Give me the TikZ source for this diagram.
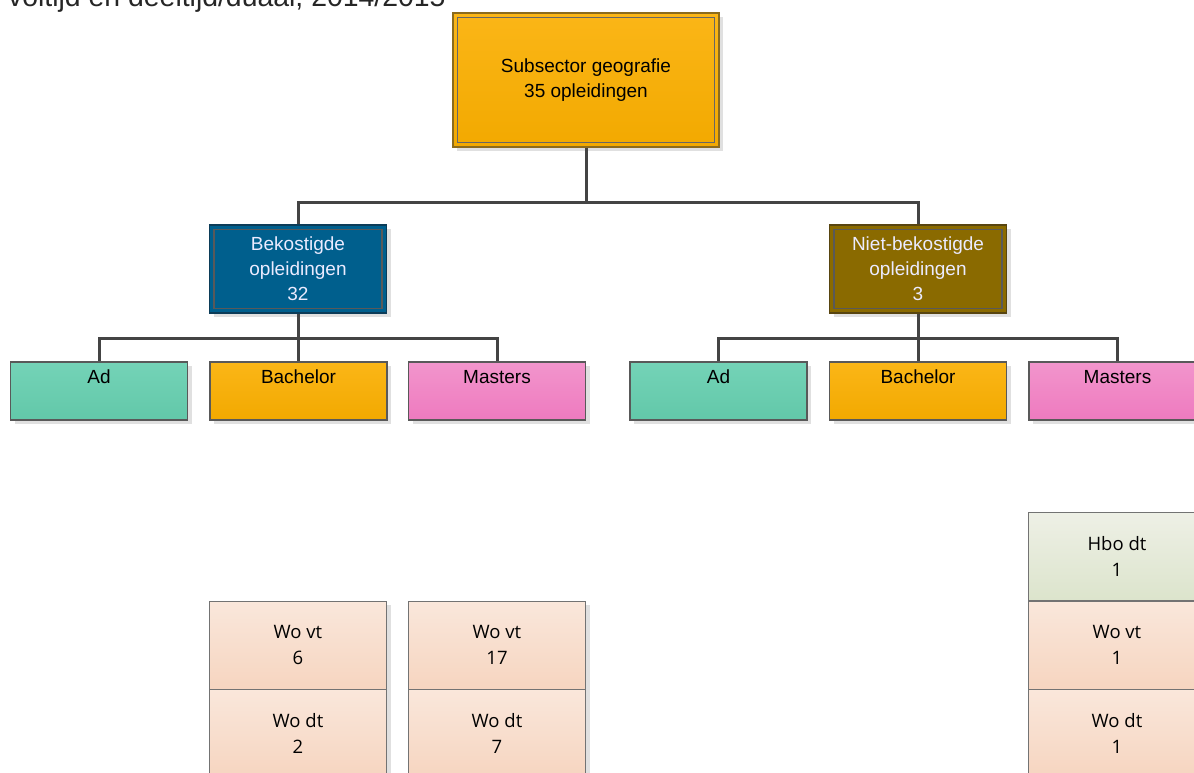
\documentclass[tikz,border=0pt]{standalone}
\usepackage{fontspec}
\setmainfont{Liberation Sans}
\newfontfamily\cellfont{Open Sans}
\usetikzlibrary{positioning,shadows}
\definecolor{lineGray}{HTML}{444444}
\definecolor{orangeTop}{HTML}{FBB617}
\definecolor{orangeBot}{HTML}{F2A900}
\definecolor{orangeEdge}{HTML}{8C6B1C}
\definecolor{blueFill}{HTML}{005F8D}
\definecolor{blueEdge}{HTML}{0C3C58}
\definecolor{oliveFill}{HTML}{8A6A00}
\definecolor{oliveEdge}{HTML}{584510}
\definecolor{tealTop}{HTML}{74D3B7}
\definecolor{tealBot}{HTML}{62C8A9}
\definecolor{pinkTop}{HTML}{F295CC}
\definecolor{pinkBot}{HTML}{EE7ABF}
\definecolor{peachTop}{HTML}{FAE7DB}
\definecolor{peachBot}{HTML}{F6D5C0}
\definecolor{greenTop}{HTML}{EEF0E6}
\definecolor{greenBot}{HTML}{DCE4CC}

\begin{document}
\begin{tikzpicture}[x=1pt,y=-1pt,
    shade box/.style={drop shadow={shadow xshift=4pt,shadow yshift=-4pt,fill=black!12,opacity=1}},
    inner frame/.style={path picture={\draw[line width=1.2pt,#1]
        ([shift={(4.5pt,-4.5pt)}]path picture bounding box.north west) rectangle
        ([shift={(-4.5pt,4.5pt)}]path picture bounding box.south east);}},
    mainbox/.style={rectangle,shade box,draw=orangeEdge,line width=1.3pt,
        top color=orangeTop,bottom color=orangeBot,inner frame=black!60,
        minimum width=266pt,minimum height=134pt,align=center,
        font=\fontsize{19}{25}\selectfont},
    groupbox/.style={rectangle,shade box,line width=1.3pt,inner frame=black!65,
        minimum width=177pt,minimum height=88pt,align=center,text=white!92!blue,
        font=\fontsize{19}{25}\selectfont},
    typebox/.style={rectangle,shade box,draw=black!65,line width=1.2pt,
        minimum width=177pt,minimum height=58pt,
        label={[anchor=base,yshift=-22pt,font=\fontsize{19}{25}\selectfont]north:#1}},
    cellbox/.style={rectangle,shade box,draw=black!55,line width=1pt,
        minimum width=177pt,minimum height=88pt,align=center,
        top color=peachTop,bottom color=peachBot,
        font=\cellfont\fontsize{18.5}{26}\selectfont},
    link/.style={draw=lineGray,line width=3pt}]
  \clip (0,0) rectangle (1194,772);
  \useasboundingbox (0,0) rectangle (1194,772);

  % title, cut off at the top
  \node[anchor=base west,inner sep=0pt,font=\fontsize{28.4}{30}\selectfont,text=black!85] (title) at (8,6)
    {voltijd en deeltijd/duaal, 2014/2015};

  % top of the tree
  \node[mainbox] (subsector) at (586,80) {Subsector geografie\\35 opleidingen};
  \node[groupbox,fill=blueFill,draw=blueEdge] (bek) at (298,269) {Bekostigde\\opleidingen\\32};
  \node[groupbox,fill=oliveFill,draw=oliveEdge] (niet) at (918,269) {Niet-bekostigde\\opleidingen\\3};

  % levels
  \node[typebox=Ad,top color=tealTop,bottom color=tealBot] (bekad) at (99,391) {};
  \node[typebox=Bachelor,top color=orangeTop,bottom color=orangeBot] (bekba) at (298.5,391) {};
  \node[typebox=Masters,top color=pinkTop,bottom color=pinkBot] (bekma) at (497,391) {};
  \node[typebox=Ad,top color=tealTop,bottom color=tealBot] (nietad) at (718.5,391) {};
  \node[typebox=Bachelor,top color=orangeTop,bottom color=orangeBot] (nietba) at (918,391) {};
  \node[typebox=Masters,top color=pinkTop,bottom color=pinkBot] (nietma) at (1117.5,391) {};

  % counts per form
  \node[cellbox] (bekbavt) at (298,645) {Wo vt\\6};
  \node[cellbox] (bekbadt) at (298,733) {Wo dt\\2};
  \node[cellbox] (bekmavt) at (497,645) {Wo vt\\17};
  \node[cellbox] (bekmadt) at (497,733) {Wo dt\\7};
  \node[cellbox,top color=greenTop,bottom color=greenBot] (nietmahbo) at (1117,556) {Hbo dt\\1};
  \node[cellbox] (nietmavt) at (1117,645) {Wo vt\\1};
  \node[cellbox] (nietmadt) at (1117,733) {Wo dt\\1};

  % connectors
  \draw[link] (subsector.south) -- ++(0,55) -| (bek.north);
  \draw[link] (subsector.south) -- ++(0,55) -| (niet.north);
  \foreach \kid in {bekad,bekba,bekma}
    \draw[link] (bek.south) -- ++(0,25) -| (\kid.north);
  \foreach \kid in {nietad,nietba,nietma}
    \draw[link] (niet.south) -- ++(0,25) -| (\kid.north);
\end{tikzpicture}
\end{document}
